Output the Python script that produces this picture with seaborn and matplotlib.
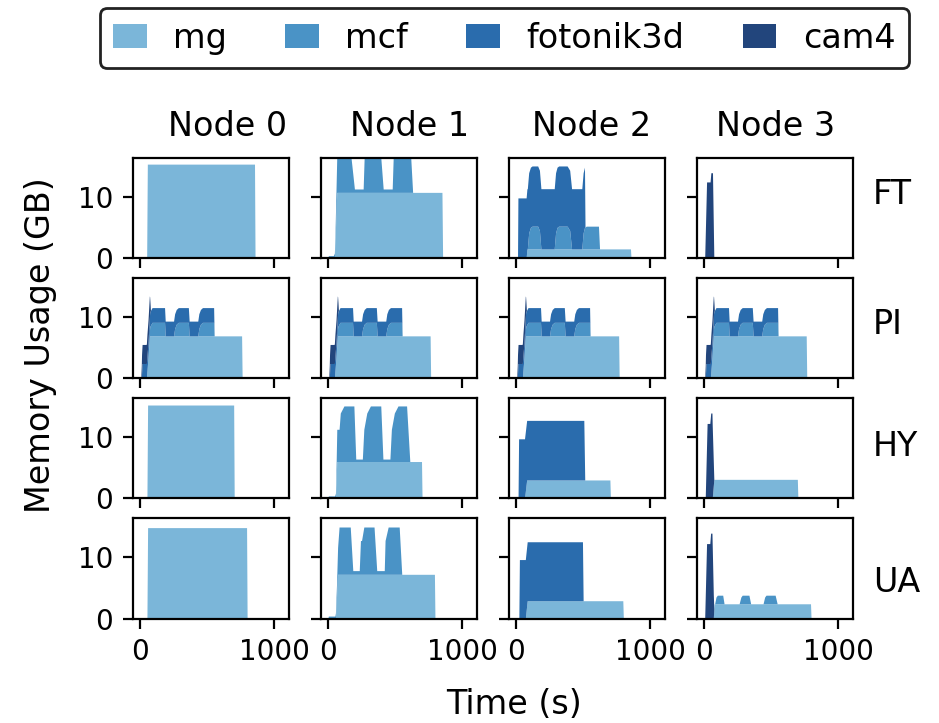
import numpy as np
import matplotlib
matplotlib.use("Agg")
import matplotlib.pyplot as plt
from matplotlib.patches import Patch
import seaborn as sns

# benchmarks, stacked bottom -> top
benches = ["mg", "mcf", "fotonik3d", "cam4"]
colors = ["#7bb6d9", "#4a93c6", "#2a6cad", "#22457c"]
policies = ["FT", "PI", "HY", "UA"]
nodes = ["Node 0", "Node 1", "Node 2", "Node 3"]

# memory usage (GB) over time (s) as (time, value) breakpoints
# --- FT ---
ft0_mg = [(50, 0), (55, 15.3), (852, 15.3), (856, 0)]
ft1_mg = [(48, 0), (66, 10.7), (848, 10.7), (853, 0)]
ft1_mcf = [(0, 0), (3, 0.4), (40, 0.4), (52, 1.0), (66, 6.0), (170, 6.0), (185, 3.0), (197, 0.55),
           (262, 0.55), (270, 6.0), (392, 6.0), (411, 0.55), (478, 0.55), (486, 6.0), (615, 6.0), (630, 0)]
ft2_mg = [(76, 0), (82, 1.5), (852, 1.5), (856, 0)]
ft2_mcf = [(85, 0), (95, 2.6), (108, 3.5), (120, 3.7), (162, 3.7), (175, 3.0), (186, 0),
           (285, 0), (295, 2.6), (306, 3.5), (318, 3.7), (381, 3.7), (400, 3.0), (414, 0),
           (490, 0), (500, 2.6), (510, 3.5), (523, 3.7), (614, 3.7), (622, 0)]
ft2_fot = [(12, 0), (15, 9.8), (510, 9.8), (514, 0)]
ft3_cam = [(6, 0), (20, 12.4), (46, 12.4), (52, 13.9), (64, 13.9), (74, 0)]
# --- PI ---
pi_cam = [(6, 0), (12, 3.1), (46, 3.1), (52, 3.6), (70, 3.6), (78, 0)]
pi_fot = [(10, 0), (16, 2.4), (548, 2.4), (552, 0)]
pi_mcf = [(60, 0), (75, 1.6), (90, 2.2), (183, 2.2), (188, 0),
          (250, 0), (258, 1.2), (270, 1.9), (285, 2.2), (360, 2.2), (366, 0),
          (430, 0), (438, 1.2), (450, 1.9), (465, 2.2), (548, 2.2), (552, 0)]
pi0_mg = [(48, 0), (72, 6.9), (756, 6.9), (760, 0)]
pi1_mg = [(48, 0), (72, 6.9), (760, 6.9), (764, 0)]
pi2_mg = [(48, 0), (72, 6.9), (764, 6.9), (768, 0)]
pi3_mg = [(48, 0), (72, 6.9), (761, 6.9), (765, 0)]
# --- HY ---
hy0_mg = [(52, 0), (57, 15.2), (697, 15.2), (701, 0)]
hy1_mg = [(56, 0), (66, 6.0), (696, 6.0), (700, 0)]
hy1_mcf = [(0, 0), (3, 0.4), (50, 0.4), (58, 1.0), (66, 5.25), (83, 5.25), (92, 7.9), (119, 9.05),
           (193, 9.05), (207, 0.4), (256, 0.4), (267, 5.25), (289, 7.9), (316, 9.05), (393, 9.05),
           (409, 0.4), (461, 0.4), (472, 5.25), (494, 7.9), (521, 9.05), (585, 9.05), (609, 0)]
hy2_mg = [(64, 0), (80, 3.0), (699, 3.0), (703, 0)]
hy2_fot = [(16, 0), (20, 9.7), (505, 9.7), (512, 0)]
hy3_mg = [(62, 0), (74, 3.1), (695, 3.1), (699, 0)]
hy3_cam = [(10, 0), (24, 12.2), (44, 12.2), (51, 13.9), (60, 13.9), (74, 0)]
# --- UA ---
ua0_mg = [(52, 0), (57, 14.8), (793, 14.8), (797, 0)]
ua1_mg = [(56, 0), (72, 7.2), (792, 7.2), (796, 0)]
ua1_mcf = [(0, 0), (3, 0.4), (52, 0.4), (64, 2.0), (83, 7.7), (166, 7.7), (185, 0.6), (233, 0.6),
           (242, 5.5), (250, 5.5), (267, 7.7), (343, 7.7), (363, 0.6), (419, 0.6), (425, 5.5),
           (448, 7.7), (530, 7.7), (549, 0)]
ua2_mg = [(70, 0), (84, 2.9), (795, 2.9), (799, 0)]
ua2_fot = [(22, 0), (26, 9.6), (495, 9.6), (500, 0)]
ua3_mg = [(70, 0), (76, 2.4), (793, 2.4), (797, 0)]
ua3_mcf = [(80, 0), (90, 1.1), (100, 1.4), (140, 1.4), (150, 0), (262, 0), (275, 1.1), (285, 1.4),
           (335, 1.4), (348, 0), (440, 0), (452, 1.1), (462, 1.4), (530, 1.4), (545, 0)]
ua3_cam = [(6, 0), (20, 12.2), (44, 12.2), (50, 13.9), (60, 13.9), (74, 0)]

panels = {
    ("FT", 0): {"mg": ft0_mg},
    ("FT", 1): {"mg": ft1_mg, "mcf": ft1_mcf},
    ("FT", 2): {"mg": ft2_mg, "mcf": ft2_mcf, "fotonik3d": ft2_fot},
    ("FT", 3): {"cam4": ft3_cam},
    ("PI", 0): {"mg": pi0_mg, "mcf": pi_mcf, "fotonik3d": pi_fot, "cam4": pi_cam},
    ("PI", 1): {"mg": pi1_mg, "mcf": pi_mcf, "fotonik3d": pi_fot, "cam4": pi_cam},
    ("PI", 2): {"mg": pi2_mg, "mcf": pi_mcf, "fotonik3d": pi_fot, "cam4": pi_cam},
    ("PI", 3): {"mg": pi3_mg, "mcf": pi_mcf, "fotonik3d": pi_fot, "cam4": pi_cam},
    ("HY", 0): {"mg": hy0_mg},
    ("HY", 1): {"mg": hy1_mg, "mcf": hy1_mcf},
    ("HY", 2): {"mg": hy2_mg, "fotonik3d": hy2_fot},
    ("HY", 3): {"mg": hy3_mg, "cam4": hy3_cam},
    ("UA", 0): {"mg": ua0_mg},
    ("UA", 1): {"mg": ua1_mg, "mcf": ua1_mcf},
    ("UA", 2): {"mg": ua2_mg, "fotonik3d": ua2_fot},
    ("UA", 3): {"mg": ua3_mg, "mcf": ua3_mcf, "cam4": ua3_cam},
}

sns.set_style("ticks", {"axes.edgecolor": "black", "xtick.color": "black",
                        "ytick.color": "black", "text.color": "black"})
plt.rcParams["font.family"] = ["DejaVu Sans"]
plt.rcParams["axes.linewidth"] = 0.8

fig, axes = plt.subplots(4, 4, sharex=True, sharey=True, figsize=(4.695, 3.615), dpi=200)
plt.subplots_adjust(left=0.1413, right=0.9087, top=0.7815, bottom=0.1445, wspace=0.2, hspace=0.2)

for r, pol in enumerate(policies):
    for c in range(4):
        ax = axes[r, c]
        layers = panels[(pol, c)]
        # put every series on the union of its breakpoints so they can be stacked
        grid = np.unique(np.concatenate([np.array(p)[:, 0] for p in layers.values()]))
        ys = []
        for b in benches:
            if b in layers:
                pts = np.array(layers[b], dtype=float)
                ys.append(np.interp(grid, pts[:, 0], pts[:, 1], left=0, right=0))
            else:
                ys.append(np.zeros_like(grid))
        ax.stackplot(grid, ys, colors=colors, linewidth=0)
        ax.set_xlim(-54, 1111)
        ax.set_ylim(0, 16.3)
        ax.set_xticks([0, 1000])
        ax.set_yticks([0, 10])
        ax.tick_params(labelsize=10, width=0.8, length=3.5)

# column / row labels
for c, (name, xp) in enumerate(zip(nodes, [228, 410, 592, 776])):
    fig.text(xp / 939, 1 - 127 / 723, name, ha="center", va="center", fontsize=12)
for pol, yp in zip(policies, [194, 325, 447, 583]):
    fig.text(873 / 939, 1 - yp / 723, pol, ha="left", va="center", fontsize=12)

fig.text(41 / 939, 1 - 345 / 723, "Memory Usage (GB)", rotation=90, ha="center", va="center", fontsize=12)
fig.text(514 / 939, 1 - 704 / 723, "Time (s)", ha="center", va="center", fontsize=12)

handles = [Patch(facecolor=col, edgecolor="none") for col in colors]
leg = fig.legend(handles, benches, loc="upper center", bbox_to_anchor=(0.537, 0.9885), ncol=4,
                 fontsize=12, handlelength=1.0, handleheight=0.7, columnspacing=1.75,
                 borderaxespad=0, frameon=True, fancybox=True, framealpha=1, edgecolor="#222222")
leg.get_frame().set_linewidth(1.0)

fig.savefig("out.png", dpi=200)
